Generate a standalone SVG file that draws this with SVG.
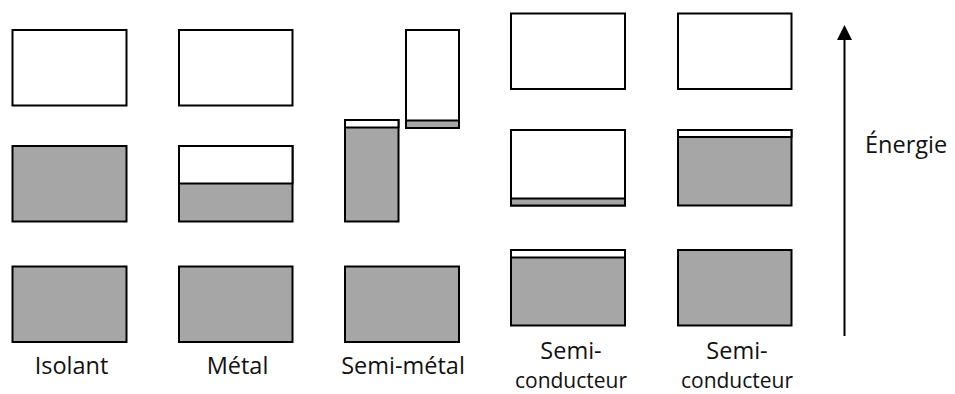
<svg xmlns="http://www.w3.org/2000/svg" width="955" height="394" viewBox="0 0 955 394">
<style>
.e{fill:#fff;stroke:#000;stroke-width:2}
.f{fill:#a6a6a6;stroke:#000;stroke-width:2}
.l{fill:none;stroke:#000;stroke-width:2}
text{font-family:"Open Sans","Liberation Sans",sans-serif;font-size:23.5px;fill:#111;text-anchor:middle}
text.c{font-size:21px}
</style>
<g id="isolant">
<rect class="e" x="12.5" y="30" width="114" height="75.5"/>
<rect class="f" x="12.5" y="146" width="114" height="75.5"/>
<rect class="f" x="12.5" y="266.5" width="114" height="75.5"/>
<text x="71.5" y="374">Isolant</text>
</g>
<g id="metal">
<rect class="e" x="179" y="30" width="113.5" height="75.5"/>
<rect class="f" x="179" y="146" width="113.5" height="75.5"/>
<rect class="e" x="179" y="146" width="113.5" height="37.5"/>
<rect class="f" x="179" y="266.5" width="113.5" height="75.5"/>
<text x="237.5" y="374">Métal</text>
</g>
<g id="semimetal">
<rect class="f" x="345" y="120" width="53.5" height="101.5"/>
<rect class="e" x="345" y="120" width="53.5" height="7.5"/>
<rect class="e" x="406" y="30" width="53" height="98"/>
<rect class="f" x="406" y="120.5" width="53" height="7.5"/>
<rect class="f" x="345" y="266.5" width="114" height="75.5"/>
<text x="403" y="374">Semi-métal</text>
</g>
<g id="semiconducteur1">
<rect class="e" x="511" y="13.5" width="114" height="75.5"/>
<rect class="e" x="511" y="130" width="114" height="75.5"/>
<rect class="f" x="511" y="198.5" width="114" height="7"/>
<rect class="f" x="511" y="250" width="114" height="75.5"/>
<rect class="e" x="511" y="250" width="114" height="7.5"/>
<text x="571" y="359">Semi-</text>
<text class="c" x="571" y="388">conducteur</text>
</g>
<g id="semiconducteur2">
<rect class="e" x="678" y="13.5" width="113.5" height="75.5"/>
<rect class="f" x="678" y="130" width="113.5" height="75.5"/>
<rect class="e" x="678" y="130" width="113.5" height="7"/>
<rect class="f" x="678" y="250" width="113.5" height="75.5"/>
<text x="737" y="359">Semi-</text>
<text class="c" x="737" y="388">conducteur</text>
</g>
<g id="connectors">
<line class="l" x1="844.5" y1="336" x2="844.5" y2="40"/>
<path d="M837,40 L844.5,25 L852,40 Z" fill="#000"/>
</g>
<g id="energie">
<text x="865" y="153" style="text-anchor:start">Énergie</text>
</g>
</svg>
